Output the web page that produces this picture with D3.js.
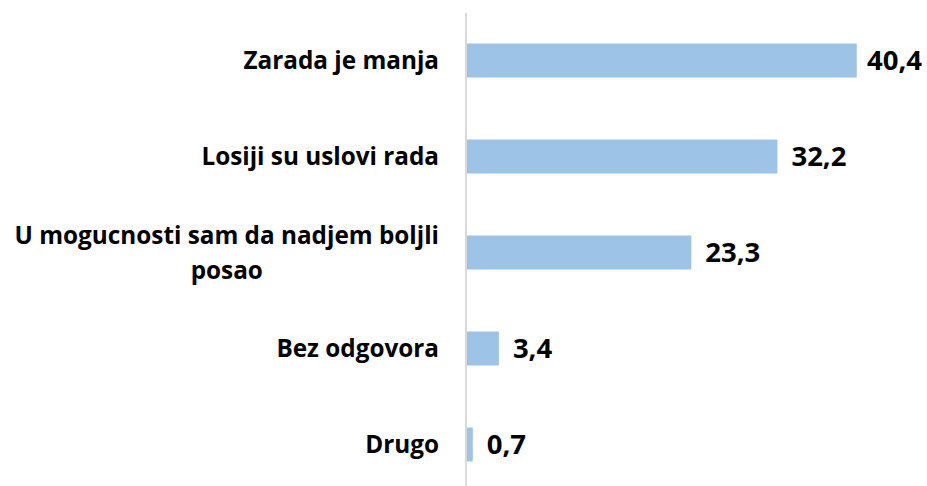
<!DOCTYPE html>
<html>
<head>
<meta charset="utf-8">
<script src="https://cdn.jsdelivr.net/npm/d3@7"></script>
<style>
  html, body { margin: 0; padding: 0; background: #ffffff; }
  svg { display: block; }
  text { font-family: "Open Sans", Lato, sans-serif; font-weight: 700; fill: #000; }
</style>
</head>
<body>
<svg id="chart" width="927" height="486"></svg>
<script>
// Data
const categories = [
  "Zarada je manja",
  "Losiji su uslovi rada",
  "U mogucnosti sam da nadjem boljli posao",
  "Bez odgovora",
  "Drugo"
];
const categoryLines = [
  ["Zarada je manja"],
  ["Losiji su uslovi rada"],
  ["U mogucnosti sam da nadjem boljli", "posao"],
  ["Bez odgovora"],
  ["Drugo"]
];
const values = [40.4, 32.2, 23.3, 3.4, 0.7];
const valueLabels = ["40,4", "32,2", "23,3", "3,4", "0,7"];

const W = 927, H = 486;
const svg = d3.select("#chart");

const x = d3.scaleLinear().domain([0, 45]).range([466, 901.2]);
const y = d3.scaleBand().domain(categories).range([12.5, 492.5])
  .paddingInner(0.646).paddingOuter(0.323);

// Bars
svg.append("g").selectAll("rect").data(values).join("rect")
  .attr("x", x(0))
  .attr("y", (d, i) => y(categories[i]))
  .attr("width", d => x(d) - x(0))
  .attr("height", y.bandwidth())
  .attr("fill", "#9DC3E6");

// Axis line
const axis = svg.append("g").attr("transform", `translate(${x(0) - 0.5},0)`)
  .call(d3.axisLeft(y).tickSize(0).tickFormat(""));
axis.select(".domain").attr("stroke", "#D9D9D9").attr("stroke-width", 2);

// Category labels
const labelRight = 439;
const catSize = 24.3;
const lineH = 35;
const lg = svg.append("g");
categoryLines.forEach((lines, i) => {
  const cy = y(categories[i]) + y.bandwidth() / 2;
  const t = lg.append("text").attr("font-size", catSize);
  const n = lines.length;
  const spans = lines.map((ln, k) => t.append("tspan")
    .attr("y", cy + catSize * 0.36 + (k - (n - 1) / 2) * lineH)
    .text(ln));
  if (n === 1) {
    t.attr("text-anchor", "end");
    spans[0].attr("x", labelRight);
  } else {
    const w = d3.max(spans, s => s.node().getComputedTextLength());
    t.attr("text-anchor", "middle");
    spans.forEach(s => s.attr("x", labelRight - w / 2));
  }
});

// Value labels
const valSize = 27.5;
svg.append("g").selectAll("text").data(values).join("text")
  .attr("font-size", valSize)
  .attr("y", (d, i) => y(categories[i]) + y.bandwidth() / 2 + valSize * 0.36)
  .text((d, i) => valueLabels[i])
  .attr("x", function(d) {
    const w = this.getComputedTextLength();
    return Math.min(x(d) + 14, W - 5 - w);
  });
</script>
</body>
</html>
